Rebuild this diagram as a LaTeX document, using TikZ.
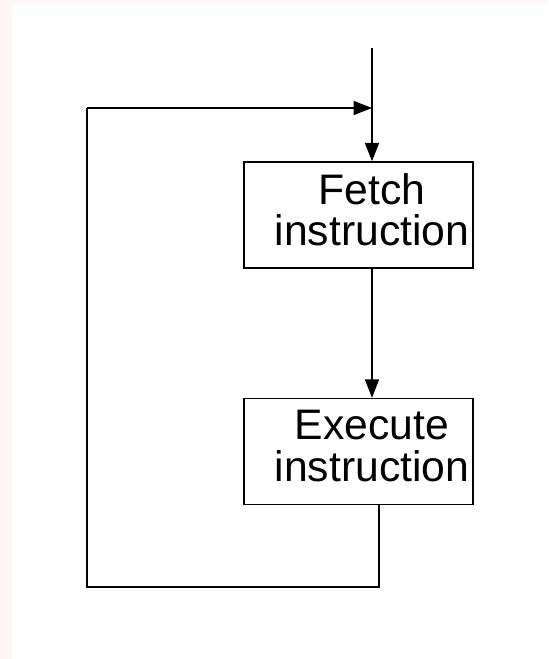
\documentclass[tikz,border=0pt]{standalone}
\usepackage{fontspec}
\setmainfont{Liberation Sans}
\usetikzlibrary{arrows.meta, positioning}

\newcommand{\boxtext}[2]{\hspace*{0.54cm}\begin{tabular}{@{}c@{}}#1\\#2\end{tabular}}

\begin{document}
\begin{tikzpicture}[
    x=0.02cm, y=-0.02cm,
    box/.style={rectangle, draw, line width=0.8pt, minimum width=4.58cm, minimum height=2.12cm, inner sep=0pt, font=\fontsize{24.3}{20.5}\selectfont},
    arrow/.style={-{Triangle[length=10.5pt, width=8pt]}, line width=0.8pt},
    line/.style={line width=0.8pt}
]

% Background
\fill[red!3] (0,0) rectangle (548,659);
\fill[white] (12,4) rectangle (548,659);
\useasboundingbox (0,0) rectangle (548,659);

% Cycle steps
\node[box] (fetch) at (358.5,215) {\boxtext{Fetch}{instruction}};
\node[box] (exec) at (358.5,451.5) {\boxtext{Execute}{instruction}};

% Loop corners
\coordinate (start) at (372,48);
\coordinate (loopbr) at (379,587);
\coordinate (loopbl) at (87,587);
\coordinate (looptl) at (87,108);
\coordinate (join) at (372,108);

% Arrows
\draw[arrow] (start) -- (start |- fetch.north);
\draw[arrow] (fetch.south -| start) -- (exec.north -| start);
\draw[line] (exec.south -| loopbr) -- (loopbr) -- (loopbl) -- (looptl);
\draw[arrow] (looptl) -- (join);

\end{tikzpicture}
\end{document}
